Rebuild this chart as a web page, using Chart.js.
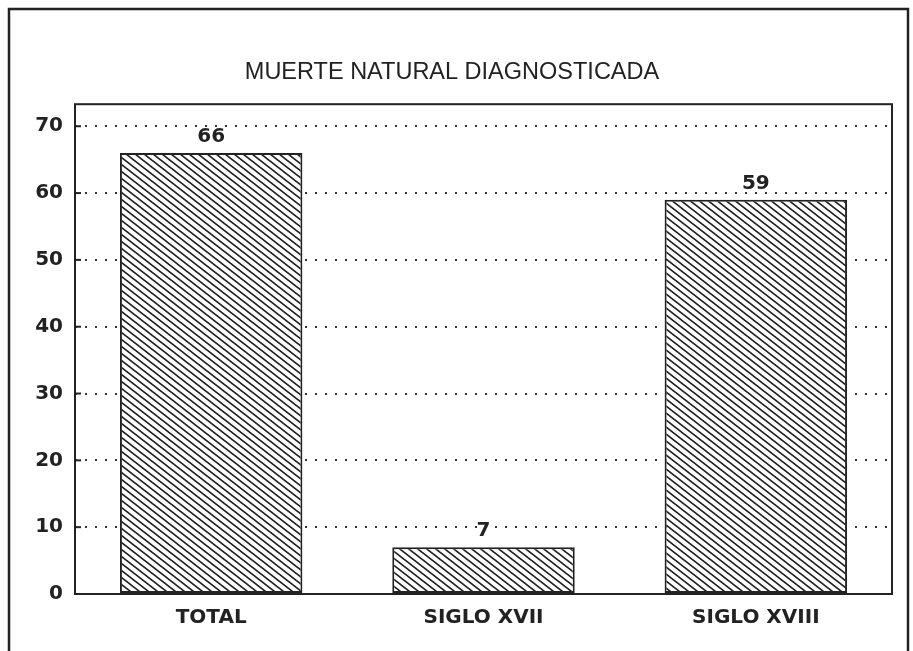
<!DOCTYPE html>
<html>
<head>
<meta charset="utf-8">
<script src="https://cdn.jsdelivr.net/npm/chart.js@4/dist/chart.umd.min.js"></script>
<style>
  html, body { margin: 0; padding: 0; background: #fff; }
  #wrap { width: 913px; height: 651px; position: relative; }
</style>
</head>
<body>
<div id="wrap"><canvas id="myChart"></canvas></div>
<script>
// data
var categories = ["TOTAL", "SIGLO XVII", "SIGLO XVIII"];
var deaths = [66, 7, 59];
var yTicks = [0, 10, 20, 30, 40, 50, 60, 70];

var INK = "#222";
var BOLD = "'DejaVu Sans', sans-serif";

// diagonal hatch "\\\" (a bit flatter than 45 deg)
function hatch() {
  var w = 9, h = 7;
  var c = document.createElement("canvas");
  c.width = w; c.height = h;
  var g = c.getContext("2d");
  g.fillStyle = "#fff";
  g.fillRect(0, 0, w, h);
  g.strokeStyle = INK;
  g.lineWidth = 1.7;
  g.beginPath();
  for (var k = -1; k <= 1; k++) {
    g.moveTo(k * w - w, -h);
    g.lineTo(k * w + 2 * w, 2 * h);
  }
  g.stroke();
  return g.createPattern(c, "repeat");
}

var frame = {
  id: "frame",
  afterDraw: function (chart) {
    var ctx = chart.ctx, a = chart.chartArea;
    ctx.save();
    ctx.strokeStyle = INK;
    ctx.lineWidth = 2.5;
    // outer page frame, bottom edge runs off the picture
    ctx.strokeRect(9, 9, 899, 660);
    ctx.lineWidth = 2;
    ctx.strokeRect(a.left, a.top, a.right - a.left, a.bottom - a.top);
    // inward ticks
    var y = chart.scales.y;
    yTicks.forEach(function (v) {
      var py = y.getPixelForValue(v);
      ctx.beginPath();
      ctx.moveTo(a.left, py);
      ctx.lineTo(a.left + 6, py);
      ctx.stroke();
    });
    // value labels
    ctx.fillStyle = INK;
    ctx.font = "bold 20px " + BOLD;
    ctx.textAlign = "center";
    ctx.textBaseline = "alphabetic";
    chart.getDatasetMeta(0).data.forEach(function (bar, i) {
      ctx.fillText(deaths[i], bar.x, bar.y - 11);
    });
    ctx.restore();
  }
};

new Chart("myChart", {
  type: "bar",
  data: {
    labels: categories,
    datasets: [{
      data: deaths,
      backgroundColor: hatch(),
      borderColor: INK,
      borderWidth: 2,
      borderSkipped: false,
      barPercentage: 1,
      categoryPercentage: 0.67
    }]
  },
  options: {
    responsive: true,
    maintainAspectRatio: false,
    animation: false,
    layout: { padding: { left: 12, right: 21, top: 0, bottom: 0 } },
    plugins: {
      legend: { display: false },
      tooltip: { enabled: false },
      title: {
        display: true,
        text: "MUERTE NATURAL DIAGNOSTICADA",
        color: INK,
        font: { family: "'Liberation Sans', Arial, sans-serif", size: 23.5, weight: "normal", lineHeight: 1.2 },
        padding: { top: 58, bottom: 18 }
      }
    },
    scales: {
      x: {
        grid: { display: false, drawTicks: false },
        border: { display: false },
        afterFit: function (axis) { axis.height = 57; },
        ticks: {
          color: INK,
          padding: 12,
          font: { family: BOLD, size: 20, weight: "bold" }
        }
      },
      y: {
        min: 0,
        max: 73.3,
        afterBuildTicks: function (axis) {
          axis.ticks = yTicks.map(function (v) { return { value: v }; });
        },
        afterFit: function (axis) { axis.width = 63; },
        grid: { color: "#333", lineWidth: 2, drawTicks: false },
        border: { display: false, dash: [2, 8] },
        ticks: {
          color: INK,
          padding: 12,
          font: { family: BOLD, size: 20, weight: "bold" }
        }
      }
    }
  },
  plugins: [frame]
});
</script>
</body>
</html>
